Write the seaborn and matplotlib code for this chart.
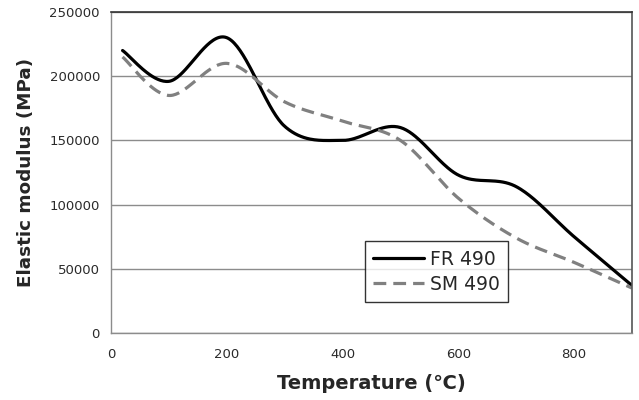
import numpy as np
import pandas as pd
import matplotlib
matplotlib.use("Agg")
import matplotlib.pyplot as plt
from matplotlib.lines import Line2D
import seaborn as sns

# Measured elastic modulus (MPa) against temperature (°C)
temperature = [20, 100, 200, 300, 400, 500, 600, 700, 800, 900]
fr490 = [220000, 196000, 230000, 161000, 150000, 160000, 123000, 114000, 75000, 37000]
sm490 = [215000, 185000, 210000, 180000, 165000, 150000, 105000, 74000, 55000, 35000]
series_names = ["FR 490", "SM 490"]
x_ticks = [0, 200, 400, 600, 800]
y_ticks = [0, 50000, 100000, 150000, 200000, 250000]


def smooth_curve(xs, ys, steps=40):
    """Spreadsheet-style smoothed line: cubic Bezier segments through the knots
    with Catmull-Rom control points."""
    xs = np.asarray(xs, float)
    ys = np.asarray(ys, float)
    px = np.concatenate([[xs[0]], xs, [xs[-1]]])
    py = np.concatenate([[ys[0]], ys, [ys[-1]]])
    out_x, out_y = [], []
    t = np.linspace(0, 1, steps)
    for i in range(1, len(px) - 2):
        p0 = np.array([px[i], py[i]])
        p3 = np.array([px[i + 1], py[i + 1]])
        c1 = p0 + (np.array([px[i + 1], py[i + 1]]) - np.array([px[i - 1], py[i - 1]])) / 6
        c2 = p3 - (np.array([px[i + 2], py[i + 2]]) - np.array([px[i], py[i]])) / 6
        b = ((1 - t) ** 3)[:, None] * p0 + (3 * (1 - t) ** 2 * t)[:, None] * c1 \
            + (3 * (1 - t) * t ** 2)[:, None] * c2 + (t ** 3)[:, None] * p3
        if i > 1:
            b = b[1:]
        out_x.extend(b[:, 0])
        out_y.extend(b[:, 1])
    return out_x, out_y


frames = []
for name, vals in zip(series_names, [fr490, sm490]):
    sx, sy = smooth_curve(temperature, vals)
    frames.append(pd.DataFrame({"T": sx, "E": sy, "steel": name}))
df = pd.concat(frames, ignore_index=True)

sns.set_theme(style="white")
plt.rcParams["font.family"] = ["DejaVu Sans", "Noto Sans CJK KR"]

LW = 2.3
SM_DASH = (4, 2.2)

fig = plt.figure(figsize=(6.39, 4.00), dpi=100)
ax = fig.add_axes([0.1737, 0.1675, 0.8153, 0.8025])

sns.lineplot(data=df, x="T", y="E", hue="steel", style="steel",
             palette={"FR 490": "black", "SM 490": "#808080"},
             dashes={"FR 490": "", "SM 490": SM_DASH},
             sort=False, estimator=None, units="steel",
             linewidth=LW, ax=ax, legend=False)

ax.set_xlim(0, 900)
ax.set_ylim(0, 250000)
ax.set_xticks(x_ticks)
ax.set_yticks(y_ticks)
ax.set_xticklabels([str(v) for v in x_ticks], fontsize=9.5, color="#2a2a2a")
ax.set_yticklabels([str(v) for v in y_ticks], fontsize=9.5, color="#2a2a2a")
ax.yaxis.grid(True, color="#8c8c8c", linewidth=1.0)
ax.set_axisbelow(True)
ax.tick_params(axis="both", which="both", length=4, width=1, color="#8c8c8c",
               direction="out")
ax.tick_params(axis="y", pad=4)
ax.tick_params(axis="x", pad=7)

for side in ["left", "bottom"]:
    ax.spines[side].set_color("#8c8c8c")
    ax.spines[side].set_linewidth(1.0)
ax.spines["top"].set_color("#333333")
ax.spines["right"].set_color("#555555")
ax.spines["top"].set_linewidth(1.2)
ax.spines["right"].set_linewidth(1.2)

ax.set_xlabel("Temperature (℃)", fontsize=14, fontweight="bold", labelpad=9)
ax.set_ylabel("Elastic modulus (MPa)", fontsize=13.2, fontweight="bold", labelpad=10)

handles = [Line2D([], [], color="black", linewidth=LW),
           Line2D([], [], color="#808080", linewidth=LW, dashes=SM_DASH)]
leg = ax.legend(handles, series_names, loc="lower left",
                bbox_to_anchor=(0.4875, 0.0966), fontsize=13.5, frameon=True,
                fancybox=False, edgecolor="black", handlelength=2.7,
                handletextpad=0.3, borderpad=0.45, labelspacing=0.3,
                borderaxespad=0)
leg.get_frame().set_linewidth(1.0)

fig.savefig("out.png", dpi=100)
